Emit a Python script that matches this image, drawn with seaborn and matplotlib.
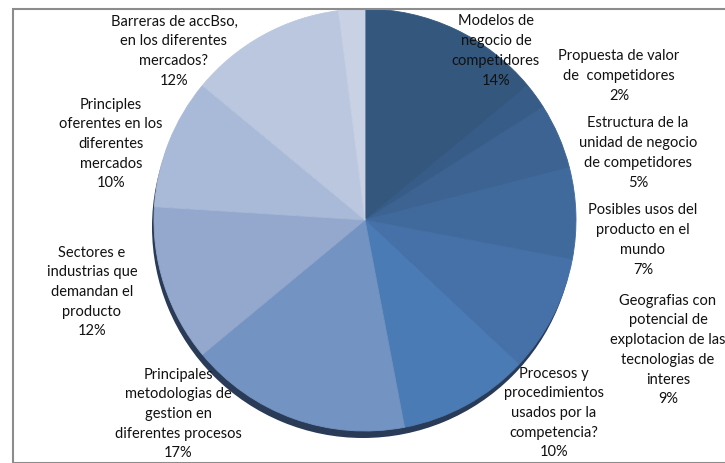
import matplotlib
matplotlib.use("Agg")
import matplotlib.pyplot as plt
import seaborn as sns
from matplotlib.patches import Rectangle

sns.set_theme(style="white")
plt.rcParams["font.family"] = ["Lato", "DejaVu Sans"]

# slices, clockwise from 12 o'clock
labels = [
    "Modelos de\nnegocio de\ncompetidores",
    "Propuesta de valor\nde  competidores",
    "Estructura de la\nunidad de negocio\nde competidores",
    "Posibles usos del\nproducto en el\nmundo",
    "Geografias con\npotencial de\nexplotacion de las\ntecnologias de\ninteres",
    "Procesos y\nprocedimientos\nusados por la\ncompetencia?",
    "Principales\nmetodologias de\ngestion en\ndiferentes procesos",
    "Sectores e\nindustrias que\ndemandan el\nproducto",
    "Principles\noferentes en los\ndiferentes\nmercados",
    "Barreras de accBso,\nen los diferentes\nmercados?",
    "",
]
values = [14, 2, 5, 7, 9, 10, 17, 12, 10, 12, 2]
colors = ["#34577e", "#375c87", "#3c6391", "#416a9c", "#4571a8", "#4b7bb5",
          "#7393c2", "#93a8cc", "#a9bad8", "#bac7df", "#c8d2e4"]

# label anchor points (pixels from top-left) - layout only
label_pos = [(496, 51), (619, 76), (638, 153), (643, 240), (668, 350),
             (554, 413), (178, 414), (92, 292), (111, 144), (174, 51), None]

W, H = 725, 463
fig = plt.figure(figsize=(W / 100, H / 100), dpi=100)
ax = fig.add_axes([0, 0, 1, 1])

cx, cy, r = 365, H - 220, 211

# shadow under the pie
ax.pie([1], colors=["#2a3b57"], radius=r, center=(cx - 2, cy - 7),
       frame=True, wedgeprops=dict(linewidth=0))
# main pie
wedges, _ = ax.pie(values, colors=colors, radius=r, center=(cx, cy), startangle=90,
                   counterclock=False, frame=True, wedgeprops=dict(linewidth=0.6))
for w in wedges:
    w.set_edgecolor(w.get_facecolor())
ax.set_xlim(0, W)
ax.set_ylim(0, H)
ax.axis("off")

for lab, v, pos in zip(labels, values, label_pos):
    if pos is None:
        continue
    ax.text(pos[0], H - pos[1], f"{lab}\n{v}%", ha="center", va="center",
            fontsize=10.5, color="#111111", linespacing=1.52)

fig.patches.append(Rectangle((12.5 / W, 0), 1, 1 - 8.5 / H, transform=fig.transFigure,
                             fill=False, edgecolor="#8c8c8c", linewidth=1.5))

fig.savefig("out.png", dpi=100)
